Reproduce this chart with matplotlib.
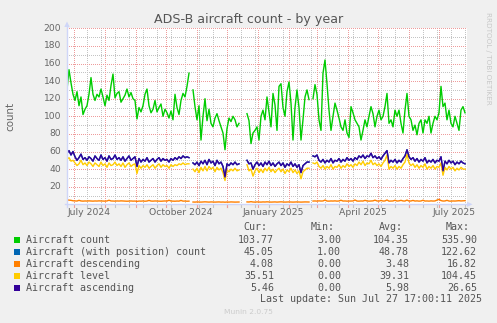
import numpy as np
import pandas as pd
import matplotlib
matplotlib.use('Agg')
import matplotlib.pyplot as plt
import matplotlib.dates as mdates
from matplotlib.lines import Line2D
from matplotlib.patches import Polygon, Rectangle

nan = float('nan')

# ---------------- data ----------------
start_date = '2024-06-24'
n_points = 200          # one sample every 2 days
step = '2D'

aircraft_count = [
    130, 153, 138, 125, 118, 128, 112, 122, 102, 108,
    112, 125, 144, 125, 118, 125, 122, 131, 122, 112,
    124, 118, 135, 148, 121, 126, 128, 116, 120, 124,
    131, 122, 127, 120, 118, 97, 110, 105, 112, 125,
    131, 112, 104, 108, 118, 105, 110, 114, 100, 108,
    104, 98, 106, 96, 125, 110, 102, 118, 126, 122,
    134, 149, nan, 130, 111, 96, 112, 73, 100, 120,
    95, 108, 92, 88, 98, 103, 95, 88, 81, 62,
    86, 98, 94, 100, 96, 88, 92, nan, nan, nan,
    103, 95, 69, 81, 84, 88, 73, 100, 107, 96,
    122, 105, 88, 126, 113, 84, 134, 137, 110, 100,
    128, 139, 115, 73, 110, 130, 110, 73, 96, 122,
    130, 119, nan, 120, 136, 125, 96, 84, 149, 164,
    137, 107, 84, 100, 115, 107, 98, 88, 84, 96,
    81, 76, 111, 104, 96, 92, 88, 73, 84, 96,
    88, 100, 111, 103, 88, 100, 107, 96, 100, 111,
    126, 92, 96, 88, 107, 100, 107, 92, 81, 107,
    126, 100, 96, 84, 90, 79, 92, 96, 81, 96,
    92, 100, 81, 92, 100, 96, 104, 134, 111, 115,
    96, 107, 92, 88, 100, 92, 84, 107, 111, 104,
]

# Munin STACK lines, values read as drawn (cumulative heights)
descending_line = [
    5.0, 4.8, 4.5, 4.0, 3.8, 3.7, 4.5, 3.8, 3.6, 3.8,
    3.7, 3.9, 3.8, 3.6, 3.8, 3.7, 3.9, 3.8, 3.7, 3.6,
    3.8, 4.6, 3.8, 3.7, 3.6, 3.8, 3.7, 3.9, 3.8, 3.7,
    3.5, 3.7, 3.8, 3.6, 3.7, 3.3, 3.7, 3.6, 3.8, 3.5,
    3.7, 4.4, 3.7, 3.6, 3.8, 3.7, 3.6, 3.5, 3.7, 3.8,
    3.6, 4.6, 3.7, 3.6, 3.5, 3.7, 3.6, 4.4, 3.6, 3.7,
    3.5, 3.6, nan,
    2.6, 2.5, 2.7, 2.6, 2.5, 2.6, 2.8, 2.6, 2.5, 2.7, 2.6, 2.5,
    2.6, 2.7, 2.5, 2.6, 2.4, 2.6, 2.5, 2.7, 2.6, 2.5, 2.6, 2.6,
    nan, nan, nan,
    2.7, 2.6, 3.0, 2.6, 2.5, 2.7, 2.6, 2.5, 2.7, 2.6, 2.8, 2.6, 2.5, 2.6, 2.7, 2.5,
    2.6, 2.8, 2.6, 2.5, 2.6, 2.7, 2.6, 2.5, 2.6, 2.7, 2.6, 2.5, 2.6, 2.7, 2.6, 2.6,
    nan,
    3.7, 3.8, 3.6, 3.9, 3.7, 3.8, 4.8, 3.7, 3.6, 3.8,
    3.7, 3.9, 3.6, 3.8, 4.6, 3.7, 3.8, 3.6, 3.7, 3.9,
    3.8, 4.9, 3.7, 3.6, 3.8, 3.7, 4.5, 3.8, 3.6, 3.7,
    3.9, 4.7, 3.8, 3.6, 4.4, 3.7, 3.8, 4.9, 3.6, 3.7,
    3.8, 4.6, 3.7, 3.9, 4.5, 3.8, 3.7, 4.8, 3.6, 3.8,
    4.4, 3.7, 3.9, 3.6, 3.8, 4.6, 3.7, 3.8, 3.6, 3.9,
    3.7, 3.8, 4.8, 5.6, 4.2, 3.7, 3.8, 4.5, 3.7, 3.6,
    3.8, 3.7, 3.9, 4.1, 3.8, 4.0, 4.1,
]

level_line = [
    51, 53, 49, 50, 47, 44, 46, 50, 45, 47,
    44, 48, 46, 43, 47, 45, 43, 48, 44, 46,
    42, 47, 44, 45, 48, 44, 46, 43, 47, 42,
    45, 47, 43, 45, 46, 35, 44, 41, 44, 42,
    45, 41, 43, 45, 41, 44, 46, 42, 45, 43,
    44, 41, 45, 43, 45, 44, 46, 45, 47, 45,
    46, 46, nan,
    40, 37, 41, 36, 42, 38, 43, 38, 43, 40, 42, 37,
    42, 39, 41, 36, 27, 39, 37, 40, 38, 41, 38, 39,
    nan, nan, nan,
    45, 38, 40, 32, 38, 41, 36, 40, 36, 41, 38, 42, 37, 40, 36, 39,
    41, 37, 40, 35, 39, 37, 41, 36, 39, 35, 38, 29, 37, 39, 41, 41,
    nan,
    47, 46, 48, 43, 41, 44, 40, 43, 41, 45,
    40, 43, 42, 45, 41, 44, 42, 46, 43, 45,
    42, 46, 44, 48, 45, 49, 44, 47, 46, 50,
    45, 47, 44, 46, 43, 47, 50, 56, 40, 43,
    41, 44, 40, 43, 41, 45, 48, 57, 47, 44,
    46, 42, 45, 41, 44, 42, 46, 40, 43, 41,
    44, 40, 43, 42, 47, 33, 42, 39, 43, 40,
    42, 38, 41, 39, 42, 40, 40,
]

with_position = [
    58, 61, 56, 60, 54, 50, 53, 57, 51, 53,
    50, 54, 52, 49, 55, 52, 50, 56, 51, 53,
    49, 55, 51, 52, 56, 51, 53, 50, 54, 49,
    52, 55, 50, 52, 54, 43, 52, 48, 51, 49,
    53, 48, 50, 52, 48, 51, 53, 49, 52, 50,
    51, 48, 52, 50, 53, 51, 54, 52, 55, 53,
    54, 53, nan,
    47, 45, 48, 44, 49, 46, 50, 45, 51, 47, 49, 44,
    50, 46, 48, 43, 31, 46, 44, 47, 45, 48, 45, 46,
    nan, nan, nan,
    50, 46, 47, 40, 45, 48, 44, 47, 43, 48, 45, 49, 44, 47, 43, 46,
    48, 44, 47, 42, 46, 44, 48, 43, 46, 42, 45, 36, 44, 46, 48, 48,
    nan,
    55, 54, 56, 50, 48, 51, 47, 50, 48, 52,
    47, 50, 49, 52, 48, 51, 49, 53, 50, 52,
    49, 53, 51, 55, 53, 56, 52, 55, 54, 58,
    53, 55, 52, 54, 51, 55, 58, 61, 47, 50,
    48, 51, 47, 50, 48, 52, 55, 62, 54, 51,
    53, 49, 52, 48, 51, 49, 53, 47, 50, 48,
    51, 47, 50, 49, 54, 38, 49, 46, 50, 47,
    49, 45, 48, 46, 49, 47, 46,
]
ascending_line = with_position  # top of the stack equals the "with position" count

legend_labels = ['Aircraft count', 'Aircraft (with position) count',
                 'Aircraft descending', 'Aircraft level', 'Aircraft ascending']
legend_colors = ['#00CC00', '#0066B3', '#FF8000', '#FFCC00', '#330099']
cur_vals = ['103.77', '45.05', '4.08', '35.51', '5.46']
min_vals = ['3.00', '1.00', '0.00', '0.00', '0.00']
avg_vals = ['104.35', '48.78', '3.48', '39.31', '5.98']
max_vals = ['535.90', '122.62', '16.82', '104.45', '26.65']

y_ticks = [20, 40, 60, 80, 100, 120, 140, 160, 180, 200]
x_labels = ['July 2024', 'October 2024', 'January 2025', 'April 2025', 'July 2025']
x_label_dates = ['2024-07-16', '2024-10-16', '2025-01-16', '2025-04-16', '2025-07-16']

# ---------------- figure ----------------
W, H = 497, 323
fig = plt.figure(figsize=(W / 100, H / 100), dpi=100, facecolor='#F0F0F0')

def fx(x):
    return x / W

def fy(y):
    return 1 - y / H

X0, X1, YB, YT = 66.5, 466.5, 204.3, 28.3
ax = fig.add_axes([fx(X0), fy(YB), (X1 - X0) / W, (YB - YT) / H])
ax.set_facecolor('white')
for s in ax.spines.values():
    s.set_visible(False)
ax.set_xticks([])
ax.set_yticks([])

t_start = pd.Timestamp('2024-06-23 12:00')
t_end = pd.Timestamp('2025-07-28 12:00')
ax.set_xlim(mdates.date2num(t_start), mdates.date2num(t_end))
ax.set_ylim(0, 200)

dates = mdates.date2num(pd.date_range(start_date, periods=n_points, freq=step))

RED = '#EE9C9C'
GREY = '#C4C4C4'
dot = (0, (1, 2))
# horizontal grid
for v in range(10, 200, 20):
    ax.axhline(v, color=GREY, lw=0.72, ls=dot, zorder=0.5, antialiased=False)
for v in range(20, 201, 20):
    ax.axhline(v, color=RED, lw=0.72, ls=dot, zorder=0.6, antialiased=False)
# vertical grid
minor_dates = pd.date_range('2024-07-14', '2025-07-27', freq='14D')
major_dates = pd.date_range('2024-07-01', '2025-07-01', freq='MS')
for d in minor_dates:
    ax.axvline(mdates.date2num(d), color=GREY, lw=0.72, ls=dot, zorder=0.5, antialiased=False)
for d in major_dates:
    ax.axvline(mdates.date2num(d), color=RED, lw=0.72, ls=dot, zorder=0.6, antialiased=False)
# small ticks under x axis
for d in minor_dates:
    ax.plot([mdates.date2num(d)] * 2, [-2.5, 0], color=GREY, lw=0.8, clip_on=False, zorder=1)
for d in major_dates:
    ax.plot([mdates.date2num(d)] * 2, [-2.5, 0], color=RED, lw=0.8, clip_on=False, zorder=1)

lw = 1.0
ax.plot(dates, np.array(aircraft_count, float), color=legend_colors[0], lw=lw, zorder=2)
ax.plot(dates, np.array(with_position, float), color=legend_colors[1], lw=lw, zorder=2.1)
ax.plot(dates, np.array(descending_line, float), color=legend_colors[2], lw=lw, zorder=2.2)
ax.plot(dates, np.array(level_line, float), color=legend_colors[3], lw=lw, zorder=2.3)
ax.plot(dates, np.array(ascending_line, float), color=legend_colors[4], lw=lw, zorder=2.4)

# axes with arrows
AX = '#CFD6F8'
fig.add_artist(Line2D([fx(67), fx(67)], [fy(206.5), fy(26)], color=AX, lw=1))
fig.add_artist(Polygon([(fx(64.3), fy(27)), (fx(69.7), fy(27)), (fx(67), fy(21.5))],
                       closed=True, color=AX, lw=0))
fig.add_artist(Line2D([fx(64.5), fx(468)], [fy(204.3), fy(204.3)], color=AX, lw=1))
fig.add_artist(Polygon([(fx(467), fy(201.6)), (fx(467), fy(207.0)), (fx(472.5), fy(204.3))],
                       closed=True, color=AX, lw=0))

FONT = '#666666'
# y tick labels
for v in y_ticks:
    ypx = YB - (YB - YT) * v / 200
    fig.text(fx(61), fy(ypx), str(v), ha='right', va='center', fontsize=6.6,
             color=FONT, family='DejaVu Sans')
# x labels
for lab, d in zip(x_labels, x_label_dates):
    ax.text(mdates.date2num(pd.Timestamp(d)), -4.6, lab, ha='center', va='top',
            fontsize=6.7, color=FONT, family='DejaVu Sans')

fig.text(0.5, fy(19.5), 'ADS-B aircraft count - by year', ha='center', va='center',
         fontsize=9.1, color='#555555', family='DejaVu Sans')
fig.text(fx(10), fy(116), 'count', rotation=90, ha='center', va='center',
         fontsize=7.4, color=FONT, family='DejaVu Sans')
fig.text(fx(488), fy(58), 'RRDTOOL / TOBI OETIKER', rotation=270, ha='center', va='center',
         fontsize=5.2, color='#C8C8C8', family='DejaVu Sans')

# legend
MONO = 'DejaVu Sans Mono'
LF = 7.2
LC = '#555555'
hy = 227
for txt, xr in zip(['Cur:', 'Min:', 'Avg:', 'Max:'], [267, 335, 403, 470]):
    fig.text(fx(xr), fy(hy), txt, ha='right', va='center', fontsize=LF, color=LC, family=MONO)
row_y = [240, 252, 264, 276, 288]
for i, yy in enumerate(row_y):
    fig.add_artist(Rectangle((fx(14), fy(yy + 3)), 6 / W, 6 / H, color=legend_colors[i], lw=0))
    fig.text(fx(26), fy(yy), legend_labels[i], ha='left', va='center', fontsize=LF,
             color=LC, family=MONO)
    for vals, xr in zip([cur_vals, min_vals, avg_vals, max_vals], [274, 341, 409, 477]):
        fig.text(fx(xr), fy(yy), vals[i], ha='right', va='center', fontsize=LF,
                 color=LC, family=MONO)
fig.text(fx(482), fy(299.5), 'Last update: Sun Jul 27 17:00:11 2025', ha='right',
         va='center', fontsize=LF, color=LC, family=MONO)
fig.text(fx(248), fy(312), 'Munin 2.0.75', ha='center', va='center', fontsize=5.4,
         color='#CCCCCC', family='DejaVu Sans')

fig.savefig('out.png', dpi=100, facecolor=fig.get_facecolor())
